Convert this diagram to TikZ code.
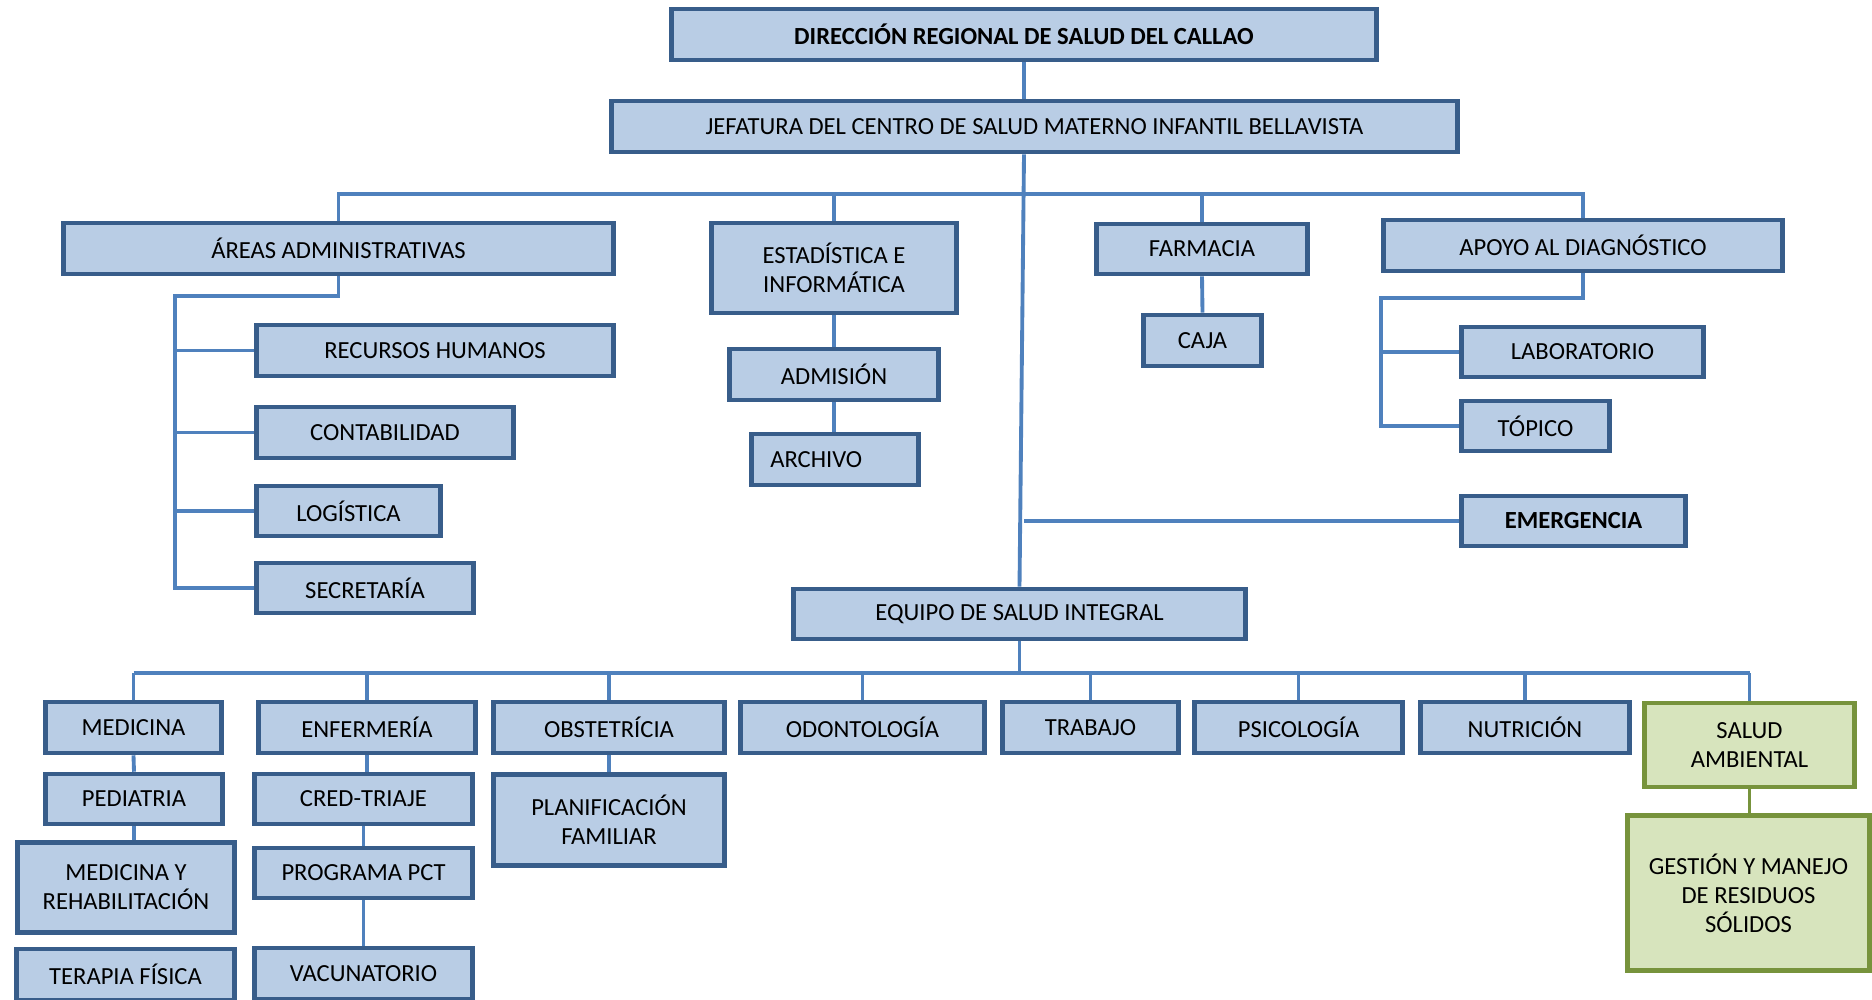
\documentclass[tikz,border=0pt]{standalone}
\usepackage{fontspec}
\setmainfont{Carlito}
\definecolor{boxfill}{HTML}{B9CDE5}
\definecolor{boxline}{HTML}{385D8A}
\definecolor{linkcol}{HTML}{4F81BD}
\definecolor{grfill}{HTML}{D7E4BD}
\definecolor{grline}{HTML}{77933C}
\begin{document}
\begin{tikzpicture}[x=0.02cm, y=-0.02cm,
  box/.style={draw=boxline, fill=boxfill, line width=2.6pt, inner sep=0pt, align=center,
    minimum height=1.02cm, font=\fontsize{14}{16.5}\selectfont},
  grbox/.style={box, draw=grline, fill=grfill},
  link/.style={draw=linkcol, line width=2.2pt}]
\useasboundingbox (0,0) rectangle (1872,1000);
\clip (0,0) rectangle (1872,1000);
\node[box, minimum width=14.1cm] (dir) at (1024,34.5) {\bfseries DIRECCIÓN REGIONAL DE SALUD DEL CALLAO};
\node[box, minimum width=16.92cm] (jef) at (1034.5,126.5) {JEFATURA DEL CENTRO DE SALUD MATERNO INFANTIL BELLAVISTA};
\node[box, minimum width=11cm] (areas) at (338.5,248.5) {ÁREAS ADMINISTRATIVAS};
\node[box, minimum width=4.9cm, minimum height=1.8cm] (estad) at (834,268) {ESTADÍSTICA E\\INFORMÁTICA};
\node[box, minimum width=4.22cm, minimum height=1cm] (farm) at (1202,249) {FARMACIA};
\node[box, minimum width=7.98cm] (apoyo) at (1583,245.5) {APOYO AL DIAGNÓSTICO};
\node[box, minimum width=7.14cm] (rrhh) at (435,350.5) {RECURSOS HUMANOS};
\node[box, minimum width=5.14cm] (conta) at (385,432.5) {CONTABILIDAD};
\node[box, minimum width=3.68cm, minimum height=1cm] (logis) at (348.5,511) {LOGÍSTICA};
\node[box, minimum width=4.34cm, minimum height=1cm] (secre) at (365,588) {SECRETARÍA};
\node[box, minimum width=4.18cm] (admis) at (834,374.5) {ADMISIÓN};
\node[box, minimum width=3.34cm] (archivo) at (835,459.5) {\hspace*{-0.75cm}ARCHIVO};
\node[box, minimum width=2.36cm] (caja) at (1202.5,340.5) {CAJA};
\node[box, minimum width=4.84cm, minimum height=1cm] (lab) at (1582.5,352) {LABORATORIO};
\node[box, minimum width=2.96cm, minimum height=1cm] (topico) at (1535.5,426) {TÓPICO};
\node[box, minimum width=4.48cm, minimum height=1cm] (emerg) at (1573.5,521) {\bfseries EMERGENCIA};
\node[box, minimum width=9.04cm, minimum height=1cm] (equipo) at (1019.5,614) {EQUIPO DE SALUD INTEGRAL};
\node[box, minimum width=3.52cm] (med) at (133.5,727.5) {MEDICINA};
\node[box, minimum width=4.34cm] (enf) at (367,727.5) {ENFERMERÍA};
\node[box, minimum width=4.62cm] (obst) at (609,727.5) {OBSTETRÍCIA};
\node[box, minimum width=4.88cm] (odon) at (862.5,727.5) {ODONTOLOGÍA};
\node[box, minimum width=3.52cm] (trab) at (1090.5,727.5) {TRABAJO};
\node[box, minimum width=4.16cm] (psico) at (1298.5,727.5) {PSICOLOGÍA};
\node[box, minimum width=4.18cm] (nutri) at (1525,727.5) {NUTRICIÓN};
\node[grbox, minimum width=4.2cm, minimum height=1.68cm] (salud) at (1749.5,745) {SALUD\\AMBIENTAL};
\node[grbox, minimum width=4.84cm, minimum height=3.1cm] (gest) at (1748.5,893) {GESTIÓN Y MANEJO\\DE RESIDUOS\\SÓLIDOS};
\node[box, minimum width=3.54cm, minimum height=1cm] (ped) at (134,799) {PEDIATRIA};
\node[box, minimum width=4.34cm, minimum height=1.8cm] (medreh) at (126,887.5) {MEDICINA Y\\REHABILITACIÓN};
\node[box, minimum width=4.36cm] (terap) at (125.5,974.5) {TERAPIA FÍSICA};
\node[box, minimum width=4.36cm, minimum height=1cm] (cred) at (363.5,799) {CRED-TRIAJE};
\node[box, minimum width=4.36cm, minimum height=1cm] (pct) at (363.5,873) {PROGRAMA PCT};
\node[box, minimum width=4.36cm] (vacun) at (363.5,973.5) {VACUNATORIO};
\node[box, minimum width=4.62cm, minimum height=1.82cm] (planif) at (609,820) {PLANIFICACIÓN\\FAMILIAR};
\coordinate (bus1) at (0,194);
\coordinate (bus2) at (0,673);
\coordinate (adm) at (175,296);
\coordinate (apo) at (1381,298);
\draw[link] (dir.south) -- (dir.south |- jef.north);
\draw[link] (dir.south |- jef.south) -- (equipo.north);
\draw[link] (areas.north) -- (areas.north |- bus1) -- (apoyo.north |- bus1) -- (apoyo.north);
\draw[link] (estad.north) -- (estad.north |- bus1);
\draw[link] (farm.north) -- (farm.north |- bus1);
\draw[link] (areas.south) -- (areas.south |- adm) -- (adm) -- (adm |- secre.west) -- (secre.west);
\foreach \n in {rrhh, conta, logis}
  \draw[link] (adm |- \n.west) -- (\n.west);
\draw[link] (estad.south) -- (admis.north);
\draw[link] (admis.south) -- (admis.south |- archivo.north);
\draw[link] (farm.south) -- (caja.north);
\draw[link] (apoyo.south) -- (apoyo.south |- apo) -- (apo) -- (apo |- topico.west) -- (topico.west);
\draw[link] (apo |- lab.west) -- (lab.west);
\draw[link] (dir.south |- emerg.west) -- (emerg.west);
\draw[link] (equipo.south) -- (equipo.south |- bus2);
\draw[link] (med.north |- bus2) -- (salud.north |- bus2);
\foreach \n in {med, enf, obst, odon, trab, psico, nutri, salud}
  \draw[link] (\n.north) -- (\n.north |- bus2);
\draw[link] (med.south) -- (ped.north);
\draw[link] (ped.south) -- (ped.south |- medreh.north);
\draw[link] (enf.south) -- (enf.south |- cred.north);
\draw[link] (cred.south) -- (pct.north);
\draw[link] (pct.south) -- (vacun.north);
\draw[link] (obst.south) -- (planif.north);
\draw[link, draw=grline] (salud.south) -- (salud.south |- gest.north);
\end{tikzpicture}
\end{document}
